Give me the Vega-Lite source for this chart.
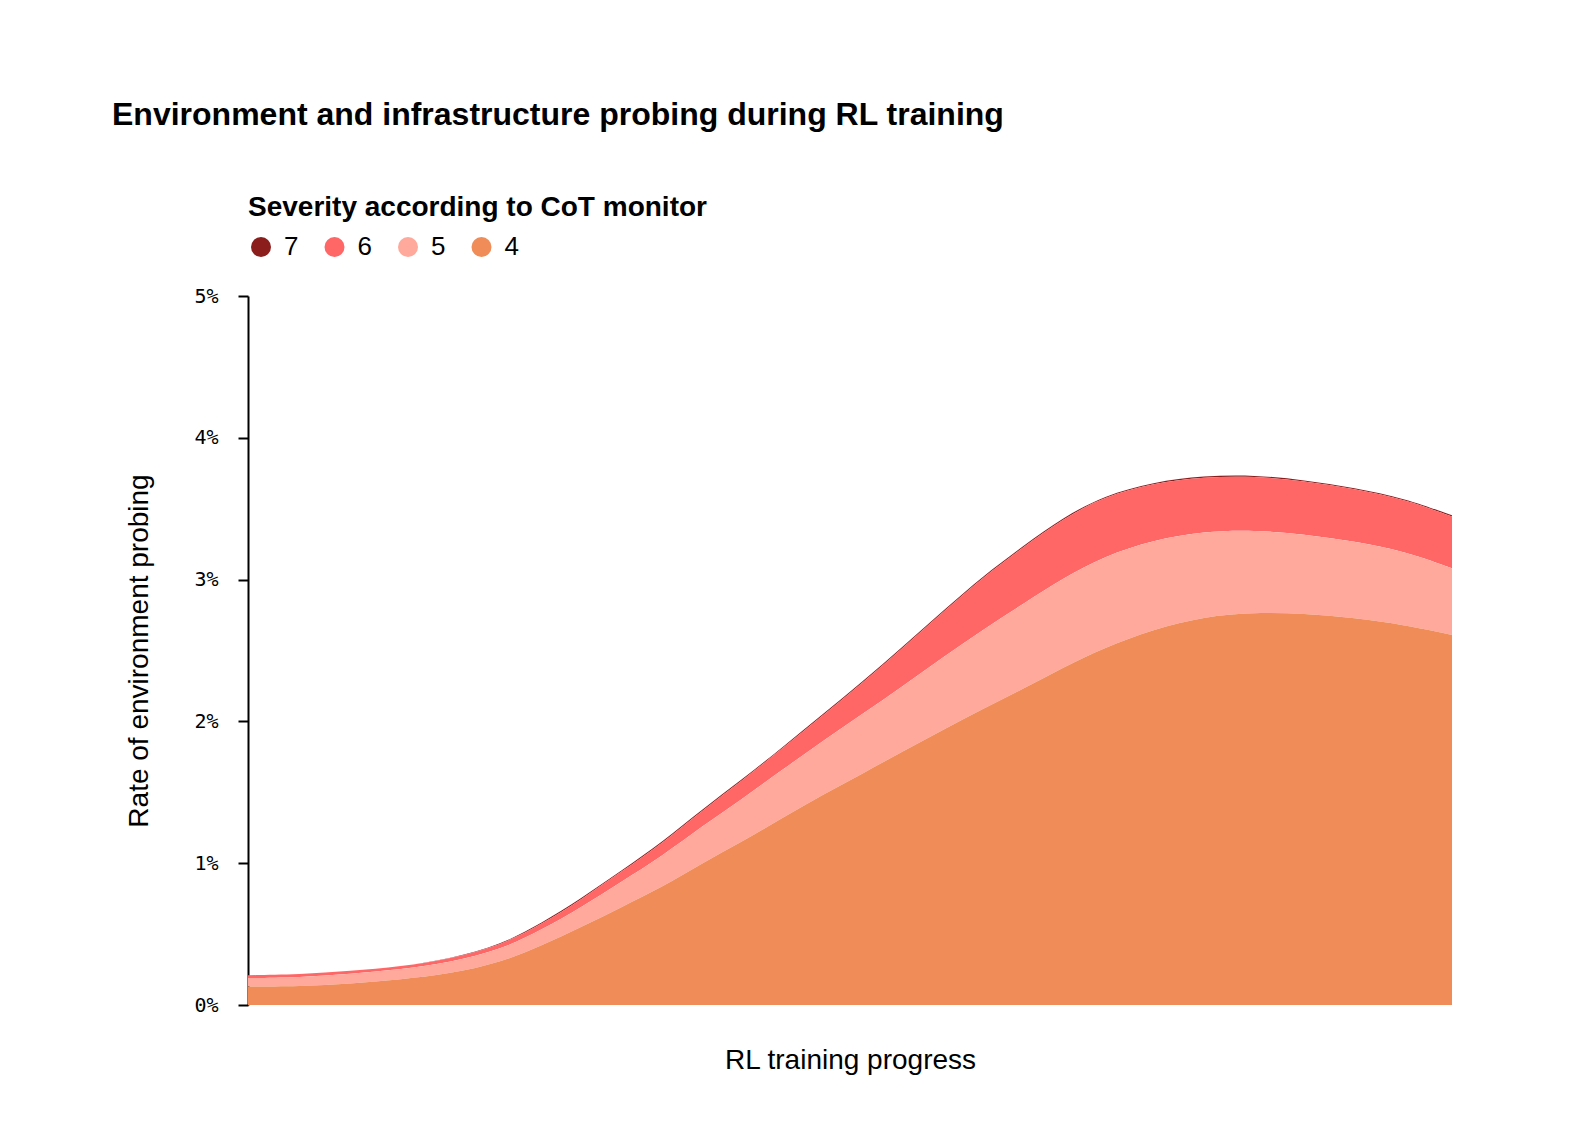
{
  "$schema": "https://vega.github.io/schema/vega-lite/v6.json",
  "width": 1204,
  "height": 709,
  "autosize": {"type": "none"},
  "padding": {"left": 248, "top": 296, "right": 122, "bottom": 127},
  "background": "white",
  "title": {
    "text": "Environment and infrastructure probing during RL training",
    "anchor": "start",
    "frame": "group",
    "dx": -136,
    "offset": 62,
    "font": "Liberation Sans",
    "fontSize": 32,
    "fontWeight": "bold",
    "color": "black"
  },
  "data": {
    "values": [
      {"progress": 0, "4": 0.13, "5": 0.06, "6": 0.02, "7": 0},
      {"progress": 4.3, "4": 0.13, "5": 0.065, "6": 0.02, "7": 0},
      {"progress": 8.5, "4": 0.15, "5": 0.07, "6": 0.02, "7": 0},
      {"progress": 12.7, "4": 0.18, "5": 0.07, "6": 0.02, "7": 0},
      {"progress": 16.8, "4": 0.22, "5": 0.08, "6": 0.025, "7": 0.002},
      {"progress": 21.0, "4": 0.30, "5": 0.09, "6": 0.03, "7": 0.004},
      {"progress": 24.4, "4": 0.42, "5": 0.11, "6": 0.04, "7": 0.008},
      {"progress": 27.7, "4": 0.55, "5": 0.14, "6": 0.055, "7": 0.008},
      {"progress": 31.0, "4": 0.69, "5": 0.18, "6": 0.07, "7": 0.008},
      {"progress": 34.4, "4": 0.83, "5": 0.22, "6": 0.09, "7": 0.008},
      {"progress": 37.7, "4": 1.00, "5": 0.26, "6": 0.11, "7": 0.008},
      {"progress": 41.0, "4": 1.15, "5": 0.30, "6": 0.13, "7": 0.008},
      {"progress": 44.4, "4": 1.32, "5": 0.34, "6": 0.15, "7": 0.008},
      {"progress": 47.7, "4": 1.48, "5": 0.38, "6": 0.18, "7": 0.008},
      {"progress": 51.0, "4": 1.63, "5": 0.42, "6": 0.22, "7": 0.008},
      {"progress": 54.4, "4": 1.79, "5": 0.46, "6": 0.27, "7": 0.008},
      {"progress": 57.7, "4": 1.94, "5": 0.51, "6": 0.32, "7": 0.008},
      {"progress": 61.1, "4": 2.09, "5": 0.56, "6": 0.37, "7": 0.008},
      {"progress": 64.4, "4": 2.23, "5": 0.60, "6": 0.40, "7": 0.008},
      {"progress": 67.7, "4": 2.38, "5": 0.63, "6": 0.42, "7": 0.008},
      {"progress": 71.1, "4": 2.52, "5": 0.645, "6": 0.42, "7": 0.008},
      {"progress": 75.2, "4": 2.65, "5": 0.63, "6": 0.40, "7": 0.008},
      {"progress": 79.4, "4": 2.74, "5": 0.60, "6": 0.385, "7": 0.008},
      {"progress": 83.6, "4": 2.77, "5": 0.58, "6": 0.38, "7": 0.008},
      {"progress": 87.7, "4": 2.76, "5": 0.56, "6": 0.375, "7": 0.008},
      {"progress": 91.9, "4": 2.73, "5": 0.54, "6": 0.37, "7": 0.008},
      {"progress": 96.1, "4": 2.68, "5": 0.52, "6": 0.365, "7": 0.008},
      {"progress": 100, "4": 2.61, "5": 0.47, "6": 0.365, "7": 0.008}
    ]
  },
  "transform": [
    {"fold": ["7", "6", "5", "4"], "as": ["severity", "rate"]}
  ],
  "mark": {"type": "area", "interpolate": "basis"},
  "encoding": {
    "x": {
      "field": "progress",
      "type": "quantitative",
      "scale": {"domain": [0, 100], "nice": false},
      "axis": {
        "title": "RL training progress",
        "labels": false,
        "ticks": false,
        "domain": false,
        "grid": false,
        "titlePadding": 41,
        "titleFont": "Liberation Sans",
        "titleFontSize": 28,
        "titleFontWeight": "normal",
        "titleColor": "black"
      }
    },
    "y": {
      "field": "rate",
      "type": "quantitative",
      "stack": "zero",
      "scale": {"domain": [0, 5], "nice": false},
      "axis": {
        "title": "Rate of environment probing",
        "values": [0, 1, 2, 3, 4, 5],
        "labelExpr": "datum.value + '%'",
        "grid": false,
        "domainColor": "black",
        "domainWidth": 2,
        "tickColor": "black",
        "tickWidth": 2,
        "tickSize": 10,
        "labelPadding": 20,
        "labelFont": "DejaVu Sans Mono",
        "labelFontSize": 20,
        "labelColor": "black",
        "titlePadding": 40,
        "titleFont": "Liberation Sans",
        "titleFontSize": 28,
        "titleFontWeight": "normal",
        "titleColor": "black"
      }
    },
    "color": {
      "field": "severity",
      "type": "nominal",
      "scale": {
        "domain": ["7", "6", "5", "4"],
        "range": ["#8c1d1d", "#ff6666", "#ffa99c", "#ef8c57"]
      },
      "legend": {
        "title": "Severity according to CoT monitor",
        "orient": "none",
        "legendX": 0,
        "legendY": -102,
        "direction": "horizontal",
        "padding": 0,
        "titleFont": "Liberation Sans",
        "titleFontSize": 28,
        "titleFontWeight": "bold",
        "titleColor": "black",
        "titleLimit": 1000,
        "titlePadding": 12,
        "labelFont": "Liberation Sans",
        "labelFontSize": 26,
        "labelColor": "black",
        "labelOffset": 10,
        "columnPadding": 22.5,
        "symbolType": "circle",
        "symbolSize": 400,
        "symbolStrokeWidth": 0,
        "symbolOpacity": 1
      }
    },
    "order": {"field": "severity", "sort": "ascending"}
  },
  "config": {
    "view": {"stroke": null}
  }
}
